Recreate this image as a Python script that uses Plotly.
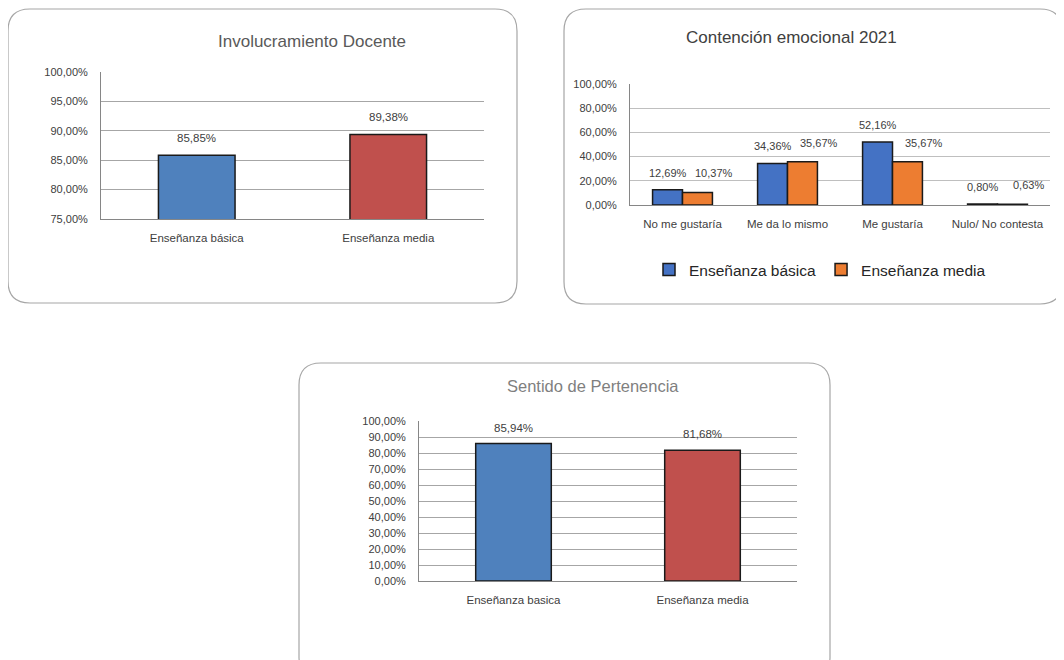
import plotly.graph_objects as go

# %%
# datos
cats_docente = ["Enseñanza básica", "Enseñanza media"]
vals_docente = [85.85, 89.38]

cats_contencion = ["No me gustaría", "Me da lo mismo", "Me gustaría", "Nulo/ No contesta"]
basica_contencion = [12.69, 34.36, 52.16, 0.80]
media_contencion = [10.37, 35.67, 35.67, 0.63]

cats_pertenencia = ["Enseñanza basica", "Enseñanza media"]
vals_pertenencia = [85.94, 81.68]

# %%
W, H = 1064, 660
OFF = 8  # margen del body en la pagina
FONT = "Liberation Sans"
TXT = "#404040"


def px_x(x):
    return (x - OFF) / W


def px_y(y):
    return 1 - (y - OFF) / H


def caja(x0, y0, x1, y1, r=22):
    # rectangulo redondeado en coordenadas paper
    pts = [
        ("M", x0 + r, y0), ("L", x1 - r, y0), ("Q", x1, y0, x1, y0 + r),
        ("L", x1, y1 - r), ("Q", x1, y1, x1 - r, y1), ("L", x0 + r, y1),
        ("Q", x0, y1, x0, y1 - r), ("L", x0, y0 + r), ("Q", x0, y0, x0 + r, y0),
    ]
    path = ""
    for p in pts:
        coords = p[1:]
        pares = [f"{px_x(coords[i]):.5f},{px_y(coords[i + 1]):.5f}" for i in range(0, len(coords), 2)]
        path += p[0] + " " + " ".join(pares) + " "
    path += "Z"
    return dict(type="path", xref="paper", yref="paper", path=path,
                line=dict(color="#A6A6A6", width=1.2), fillcolor="rgba(0,0,0,0)", layer="below")


def etiquetas(cats, vals, xref, yref, dx=0, dy=17, size=11.5):
    return [dict(x=c, y=v, xref=xref, yref=yref, text=f"{v:.2f}%".replace(".", ","),
                 showarrow=False, yshift=dy, xshift=dx, yanchor="middle", xanchor="center",
                 font=dict(size=size, color=TXT)) for c, v in zip(cats, vals)]


fig = go.Figure()

# grafico 1
fig.add_trace(go.Bar(
    x=cats_docente, y=vals_docente, width=0.4, xaxis="x", yaxis="y",
    marker=dict(color=["#4F81BD", "#C0504D"], line=dict(color="#1a1a1a", width=1.5)),
    showlegend=False,
))

# grafico 2
fig.add_trace(go.Bar(
    x=cats_contencion, y=basica_contencion, name="Enseñanza básica", xaxis="x2", yaxis="y2",
    marker=dict(color="#4472C4", line=dict(color="#1a1a1a", width=1.5)),
))
fig.add_trace(go.Bar(
    x=cats_contencion, y=media_contencion, name="Enseñanza media", xaxis="x2", yaxis="y2",
    marker=dict(color="#ED7D31", line=dict(color="#1a1a1a", width=1.5)),
))

# grafico 3
fig.add_trace(go.Bar(
    x=cats_pertenencia, y=vals_pertenencia, width=0.4, xaxis="x3", yaxis="y3",
    marker=dict(color=["#4F81BD", "#C0504D"], line=dict(color="#1a1a1a", width=1.5)),
    showlegend=False,
))

eje_x = dict(showgrid=False, showline=True, linecolor="#868686", ticks="", automargin=False,
             ticklabelstandoff=8, tickfont=dict(size=11.5, color=TXT, family=FONT))
eje_y = dict(showgrid=True, gridcolor="#A6A6A6", showline=True, linecolor="#868686",
             ticksuffix="%", tickformat=".2f", zeroline=False, automargin=False,
             ticklabelstandoff=10, tickfont=dict(size=11, color=TXT, family=FONT))

anots = [
    dict(text="Involucramiento Docente", x=px_x(312), y=px_y(41), xref="paper", yref="paper",
         showarrow=False, xanchor="center", yanchor="middle", font=dict(size=17, color="#595959")),
    dict(text="Contención emocional 2021", x=px_x(791), y=px_y(37), xref="paper", yref="paper",
         showarrow=False, xanchor="center", yanchor="middle", font=dict(size=17, color="#404040")),
    dict(text="Sentido de Pertenencia", x=px_x(593), y=px_y(386), xref="paper", yref="paper",
         showarrow=False, xanchor="center", yanchor="middle", font=dict(size=16.5, color="#7F7F7F")),
]
anots += etiquetas(cats_docente, vals_docente, "x", "y")
anots += etiquetas(cats_contencion, basica_contencion, "x2", "y2", dx=-15, size=11)
anots += etiquetas(cats_contencion, media_contencion, "x2", "y2", dx=31, dy=19, size=11)
anots += etiquetas(cats_pertenencia, vals_pertenencia, "x3", "y3", dy=16)

fig.update_layout(
    width=W, height=H, margin=dict(l=0, r=0, t=0, b=0, autoexpand=False),
    paper_bgcolor="white", plot_bgcolor="white",
    font=dict(family=FONT, color=TXT),
    separators=",.", barmode="group", bargap=0.43, bargroupgap=0,
    xaxis=dict(eje_x, domain=[px_x(101), px_x(484)], anchor="y"),
    yaxis=dict(eje_y, domain=[px_y(219), px_y(72)], range=[75, 100], dtick=5, anchor="x"),
    xaxis2=dict(eje_x, domain=[px_x(630), px_x(1050)], anchor="y2"),
    yaxis2=dict(eje_y, domain=[px_y(205), px_y(84)], range=[0, 100], dtick=20, anchor="x2",
                gridcolor="#BFBFBF"),
    xaxis3=dict(eje_x, domain=[px_x(419), px_x(797)], anchor="y3"),
    yaxis3=dict(eje_y, domain=[px_y(581), px_y(421)], range=[0, 100], dtick=10, anchor="x3"),
    legend=dict(orientation="h", x=px_x(820), y=px_y(270), xanchor="center", yanchor="middle",
                font=dict(size=15.5, color="#262626"), itemwidth=30, tracegroupgap=0),
    shapes=[caja(8, 9, 517, 303), caja(564, 9, 1062, 304), caja(299, 363, 830, 680)],
    annotations=anots,
)

fig.write_html("out.html")
